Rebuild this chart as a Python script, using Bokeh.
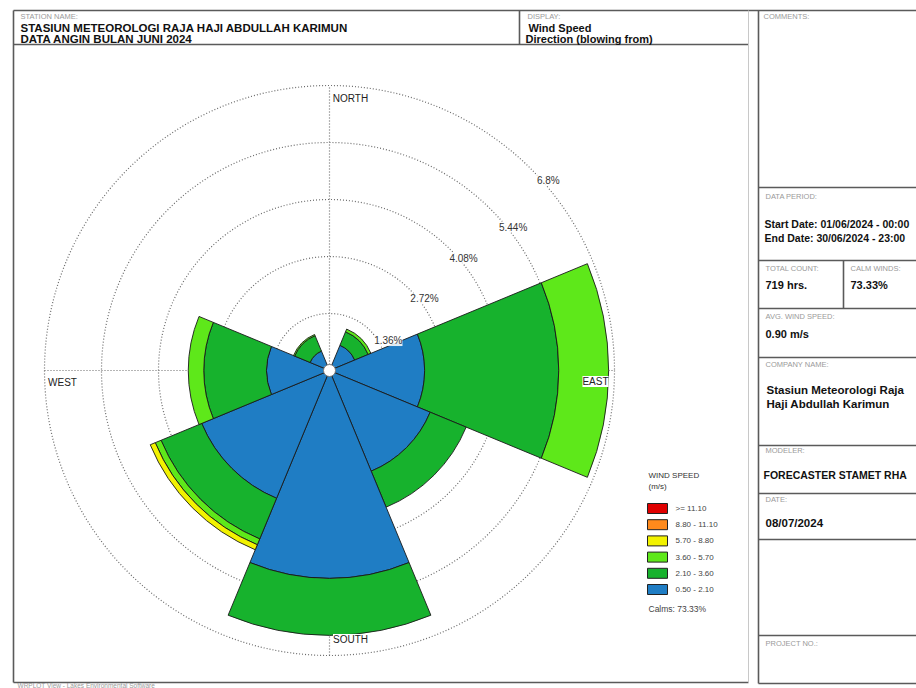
from bokeh.plotting import figure
from bokeh.models import Range1d, Label
from bokeh.embed import file_html
from bokeh.resources import INLINE
from bokeh.core.properties import value
import numpy as np

# ---------------- data ----------------
directions = ["N", "NE", "E", "SE", "S", "SW", "W", "NW"]
bearings = [0, 45, 90, 135, 180, 225, 270, 315]
# frequency (%) per speed class (m/s), per direction
freq_050_210 = [0.00, 0.65, 2.27, 2.60, 4.96, 3.30, 1.50, 0.50]
freq_210_360 = [0.00, 0.35, 3.20, 0.93, 1.36, 1.05, 1.50, 0.40]
freq_360_570 = [0.00, 0.07, 1.19, 0.00, 0.00, 0.15, 0.37, 0.03]
freq_570_880 = [0.00, 0.00, 0.00, 0.00, 0.00, 0.13, 0.00, 0.00]
freq_880_1110 = [0.00, 0.00, 0.00, 0.00, 0.00, 0.00, 0.00, 0.00]
freq_ge_1110 = [0.00, 0.00, 0.00, 0.00, 0.00, 0.00, 0.00, 0.00]
class_labels = ["0.50 - 2.10", "2.10 - 3.60", "3.60 - 5.70",
                "5.70 - 8.80", "8.80 - 11.10", ">= 11.10"]
class_colors = ["#1f7dc4", "#17b22d", "#5ee81a", "#f2f200", "#ff8a1c", "#e00000"]
ring_values = [1.36, 2.72, 4.08, 5.44, 6.8]
ring_labels = ["1.36%", "2.72%", "4.08%", "5.44%", "6.8%"]
calm_pct = 73.33

FONT = "Liberation Sans"

# ---------------- figure ----------------
p = figure(width=916, height=688, x_range=Range1d(0, 916), y_range=Range1d(0, 688),
           output_backend="svg", toolbar_location=None, min_border=0)
p.axis.visible = False
p.grid.visible = False
p.outline_line_color = None
p.background_fill_color = "white"
p.border_fill_color = "white"


def Y(v):
    return 688 - v


# ---------------- frame ----------------
dark = "#5a5a5a"
segs = [
    (13, 10, 916, 10), (13, 10, 13, 682), (13, 682, 748, 682),
    (13, 44, 748, 44), (519, 10, 519, 44), (758, 10, 758, 683),
    (758, 683, 916, 683), (758, 187, 916, 187), (758, 260, 916, 260),
    (758, 308, 916, 308), (758, 357, 916, 357), (758, 445, 916, 445),
    (758, 493, 916, 493), (758, 539, 916, 539), (758, 635, 916, 635),
    (843, 260, 843, 308),
]
p.segment(x0=[s[0] for s in segs], y0=[Y(s[1]) for s in segs],
          x1=[s[2] for s in segs], y1=[Y(s[3]) for s in segs],
          line_color=dark, line_width=1.6)
p.segment(x0=[748], y0=[Y(10)], x1=[748], y1=[Y(682)], line_color="#c8c8c8", line_width=1)


def txt(x, y, s, size, bold=False, color="#111111", align="left"):
    p.text(x=[x], y=[Y(y)], text=[s], text_font=value(FONT), text_font_size=f"{size}px",
           text_font_style="bold" if bold else "normal", text_color=color,
           text_baseline="middle", text_align=align)


small = "#9a9a9a"
txt(20, 16, "STATION NAME:", 7.5, color=small)
txt(20, 27.5, "STASIUN METEOROLOGI RAJA HAJI  ABDULLAH KARIMUN", 11.5, bold=True)
txt(20, 38.5, "DATA  ANGIN BULAN JUNI 2024", 11.5, bold=True)
txt(527, 16, "DISPLAY:", 7.5, color=small)
txt(528, 27.5, "Wind Speed", 11, bold=True)
txt(525, 38.5, "Direction (blowing from)", 11, bold=True)
txt(763, 16, "COMMENTS:", 7.5, color=small)
txt(765, 196, "DATA PERIOD:", 7.5, color=small)
txt(764, 223, "Start Date: 01/06/2024 - 00:00", 10.5, bold=True)
txt(764, 237, "End Date: 30/06/2024 - 23:00", 10.5, bold=True)
txt(765, 268, "TOTAL COUNT:", 7.5, color=small)
txt(850, 268, "CALM WINDS:", 7.5, color=small)
txt(765, 284, "719 hrs.", 11, bold=True)
txt(850, 284, f"{calm_pct:.2f}%", 11, bold=True)
txt(765, 316, "AVG. WIND SPEED:", 7.5, color=small)
txt(765, 333, "0.90 m/s", 11, bold=True)
txt(765, 364, "COMPANY NAME:", 7.5, color=small)
txt(766, 389, "Stasiun Meteorologi Raja", 11.5, bold=True)
txt(766, 403, "Haji Abdullah Karimun", 11.5, bold=True)
txt(765, 450, "MODELER:", 7.5, color=small)
txt(763, 474, "FORECASTER STAMET RHA", 10.5, bold=True)
txt(765, 499, "DATE:", 7.5, color=small)
txt(765, 522, "08/07/2024", 11.5, bold=True)
txt(765, 643, "PROJECT NO.:", 7.5, color=small)
txt(17, 684.5, "WRPLOT View - Lakes Environmental Software", 6.5, color=small)

# ---------------- wind rose ----------------
cx, cy = 329, Y(370)
k = 57 / 1.36  # pixels per percent

# rings and crosshair
rmax = ring_values[-1] * k
p.circle(x=[cx] * len(ring_values), y=[cy] * len(ring_values),
         radius=[v * k for v in ring_values], fill_alpha=0,
         line_color="#6a6a6a", line_dash="1 2", line_width=1.2)
p.segment(x0=[cx, cx - rmax], y0=[cy - rmax, cy], x1=[cx, cx + rmax], y1=[cy + rmax, cy],
          line_color="#6a6a6a", line_dash="1 2", line_width=1.2)

classes = [freq_050_210, freq_210_360, freq_360_570, freq_570_880, freq_880_1110, freq_ge_1110]
xs, ys, rin, rout, a0, a1, cols = [], [], [], [], [], [], []
for i, b in enumerate(bearings):
    cum = 0.0
    for c, arr in enumerate(classes):
        v = arr[i]
        if v <= 0:
            continue
        xs.append(cx); ys.append(cy)
        rin.append(cum * k); rout.append((cum + v) * k)
        a0.append(np.radians(90 - b - 22.5)); a1.append(np.radians(90 - b + 22.5))
        cols.append(class_colors[c])
        cum += v
p.annular_wedge(x=xs, y=ys, inner_radius=rin, outer_radius=rout,
                start_angle=a0, end_angle=a1, fill_color=cols,
                line_color="#1a1a1a", line_width=0.9)

p.circle(x=[cx], y=[cy], radius=6, fill_color="white", line_color="#777777", line_width=1)

# ring labels
label_bearing = [63, 53, 50, 52, 49]
label_r = [66, 119, 175, 233, 290]
for lb, lr, t in zip(label_bearing, label_r, ring_labels):
    lx = cx + lr * np.sin(np.radians(lb))
    ly = cy + lr * np.cos(np.radians(lb))
    p.add_layout(Label(x=lx, y=ly, text=t, text_font=FONT, text_font_size="10px",
                       text_color="#333333", text_align="center", text_baseline="middle",
                       background_fill_color="white", background_fill_alpha=0.85))

for t, lx, ly in [("NORTH", 350, 98), ("SOUTH", 350, 639), ("EAST", 595, 381), ("WEST", 62, 382)]:
    p.add_layout(Label(x=lx, y=Y(ly), text=t, text_font=FONT, text_font_size="10px",
                       text_color="#222222", text_align="center", text_baseline="middle",
                       background_fill_color="white", background_fill_alpha=1.0))

# ---------------- legend ----------------
txt(648, 475, "WIND SPEED", 8, color="#333333")
txt(648, 486, "(m/s)", 8, color="#333333")
leg_top = [503 + 16.2 * j for j in range(6)]
leg_cols = class_colors[::-1]
leg_text = class_labels[::-1]
p.quad(left=[647] * 6, right=[667] * 6, top=[Y(t) for t in leg_top],
       bottom=[Y(t + 10) for t in leg_top], fill_color=leg_cols,
       line_color="#222222", line_width=1)
for t, s in zip(leg_top, leg_text):
    txt(675, t + 5, s, 8, color="#444444")
txt(648, 608, f"Calms: {calm_pct:.2f}%", 8.5, color="#444444")

open("out.html", "w").write(file_html(p, INLINE))
